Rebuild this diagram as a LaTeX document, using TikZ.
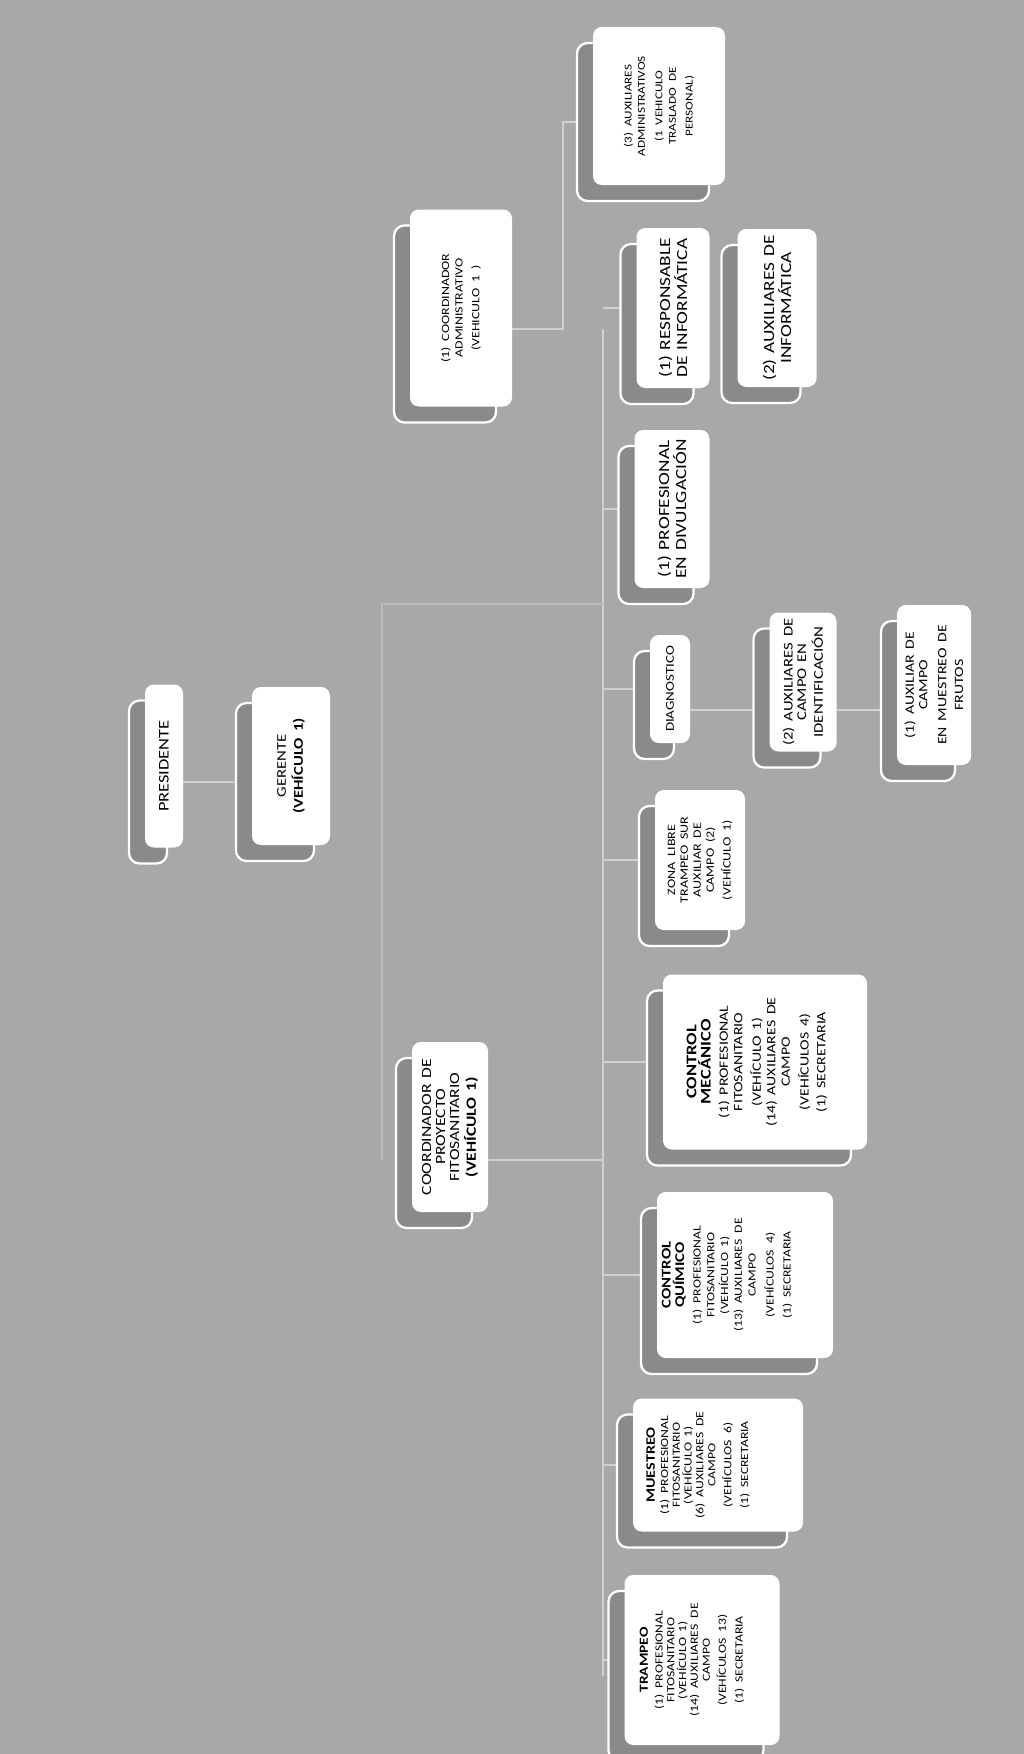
\documentclass[tikz,border=0pt]{standalone}
\usepackage{fontspec}
\setmainfont{Carlito}
\pgfdeclarelayer{fondo}
\pgfdeclarelayer{lineas}
\pgfsetlayers{fondo,lineas,main}

\definecolor{grisfondo}{RGB}{168,168,170}
\definecolor{grissombra}{RGB}{138,138,140}
\definecolor{grislinea}{RGB}{208,208,210}

\tikzset{
  caja/.style={fill=white,rounded corners=5pt,inner sep=0pt},
  sombra/.style={fill=grissombra,draw=white,line width=1.3pt,rounded corners=6pt},
  texto/.style={rotate=90,yscale=0.8,align=center,inner sep=0pt},
  enlace/.style={draw=grislinea,line width=1.1pt},
  enlacetenue/.style={draw=grislinea!45!grisfondo,line width=0.8pt}
}

\newcommand{\orgcaja}[7][0]{%
  \filldraw[sombra] (#3-#5/2-16,#4-#6/2+16) rectangle (#3+#5/2-16,#4+#6/2+16);
  \node[caja,minimum width=#5*0.02cm,minimum height=#6*0.02cm] (#2) at (#3,#4) {};
  \pgfmathsetlengthmacro{\anchotexto}{#6*0.02cm}%
  \node[texto,text width=\anchotexto] (#2-t) at ([xshift=#1*0.02cm]#2) {#7};
}

\begin{document}
\begin{tikzpicture}[x=0.02cm,y=-0.02cm]
\begin{pgfonlayer}{fondo}
\fill[grisfondo] (0,0) rectangle (1024,1754);
\end{pgfonlayer}
\useasboundingbox (0,0) rectangle (1024,1754);

\orgcaja{pres}{164}{766}{38}{163}{\fontsize{10.5}{12}\selectfont PRESIDENTE}
\orgcaja{ger}{291}{766}{78}{158}{\fontsize{9.5}{11.5}\selectfont GERENTE\\\textbf{(VEHÍCULO 1)}}
\orgcaja{cadm}{461}{308}{102}{197}{\fontsize{7.9}{9.5}\selectfont (1) COORDINADOR\\ADMINISTRATIVO\\(VEHICULO 1 )}
\orgcaja{auxadm}{659}{106}{132}{158}{\fontsize{7.5}{9.5}\selectfont (3) AUXILIARES\\ADMINISTRATIVOS\\[3pt](1 VEHICULO\\TRASLADO DE\\PERSONAL)}
\orgcaja{resinf}{673}{308}{73}{160}{\fontsize{11}{10.6}\selectfont (1) RESPONSABLE\\DE INFORMÁTICA}
\orgcaja{auxinf}{777}{308}{79}{158}{\fontsize{11}{10.6}\selectfont (2) AUXILIARES DE\\INFORMÁTICA}
\orgcaja{divul}{672}{509}{75}{158}{\fontsize{11}{10.6}\selectfont (1) PROFESIONAL\\EN DIVULGACIÓN}
\orgcaja{diag}{670}{689}{40}{108}{\fontsize{8.5}{9}\selectfont DIAGNOSTICO}
\orgcaja{ident}{803}{682}{67}{139}{\fontsize{9.5}{9.5}\selectfont (2) AUXILIARES DE\\CAMPO EN\\IDENTIFICACIÓN}
\orgcaja{frutos}{934}{685}{74}{160}{\fontsize{9}{9.5}\selectfont (1) AUXILIAR DE\\CAMPO\\[4pt]EN MUESTREO DE\\FRUTOS}
\orgcaja{zona}{700}{860}{90}{140}{\fontsize{8}{9.2}\selectfont ZONA LIBRE\\TRAMPEO SUR\\AUXILIAR DE\\CAMPO (2)\\(VEHÍCULO 1)}
\orgcaja{cproy}{450}{1127}{76}{170}{\fontsize{10}{10}\selectfont COORDINADOR DE\\PROYECTO\\FITOSANITARIO\\\textbf{(VEHÍCULO 1)}}
\orgcaja[-8]{cmec}{765}{1062}{204}{175}{{\bfseries\fontsize{10.5}{10}\selectfont CONTROL\\MECÁNICO\\[2pt]}\fontsize{9}{10.3}\selectfont (1) PROFESIONAL\\FITOSANITARIO\\[3pt](VEHÍCULO 1)\\(14) AUXILIARES DE\\CAMPO\\[3pt](VEHÍCULOS 4)\\(1) SECRETARIA}
\orgcaja[-18]{cqui}{745}{1275}{176}{166}{{\bfseries\fontsize{9.5}{9.5}\selectfont CONTROL\\QUÍMICO\\[2pt]}\fontsize{7.8}{9.8}\selectfont (1) PROFESIONAL\\FITOSANITARIO\\(VEHÍCULO 1)\\(13) AUXILIARES DE\\CAMPO\\[3pt](VEHÍCULOS 4)\\(1) SECRETARIA}
\orgcaja[-20]{mues}{718}{1465}{170}{133}{{\bfseries\fontsize{9.2}{8.5}\selectfont MUESTREO\\[1pt]}\fontsize{7.8}{8.4}\selectfont (1) PROFESIONAL\\FITOSANITARIO\\(VEHÍCULO 1)\\(6) AUXILIARES DE\\CAMPO\\[3pt](VEHÍCULOS 6)\\(1) SECRETARIA}
\orgcaja[-10]{tramp}{702}{1660}{155}{170}{{\bfseries\fontsize{8.8}{8.5}\selectfont TRAMPEO\\[2pt]}\fontsize{7.8}{8.4}\selectfont (1) PROFESIONAL\\FITOSANITARIO\\(VEHÍCULO 1)\\(14) AUXILIARES DE\\CAMPO\\[3pt](VEHÍCULOS 13)\\(1) SECRETARIA}

\coordinate (bus-top) at (603,329);
\coordinate (bus-bot) at (603,1676);
\coordinate (codo) at (563,329);
\coordinate (ger-k) at (382,604);
\coordinate (diag-k) at (0,710);
\coordinate (cproy-k) at (0,1160);
\begin{pgfonlayer}{lineas}
\draw[enlace] ([yshift=-0.32cm]pres.east) -- ([yshift=-0.32cm]ger.west);
\draw[enlace] (cadm.east |- codo) -- (codo) |- ([yshift=-0.32cm]auxadm.west);
\draw[enlace] (bus-top) -- (bus-bot);
\draw[enlacetenue] (ger-k |- cproy-k) -- (ger-k) -- (bus-top |- ger-k);
\draw[enlace] (cproy.east |- cproy-k) -- (bus-top |- cproy-k);
\draw[enlace] (diag.east |- diag-k) -- (frutos.west |- diag-k);
\foreach \n in {resinf,divul,diag,zona,cmec,cqui,mues,tramp}
  \draw[enlace] (bus-top |- \n.west) -- (\n.west);
\end{pgfonlayer}
\end{tikzpicture}
\end{document}
